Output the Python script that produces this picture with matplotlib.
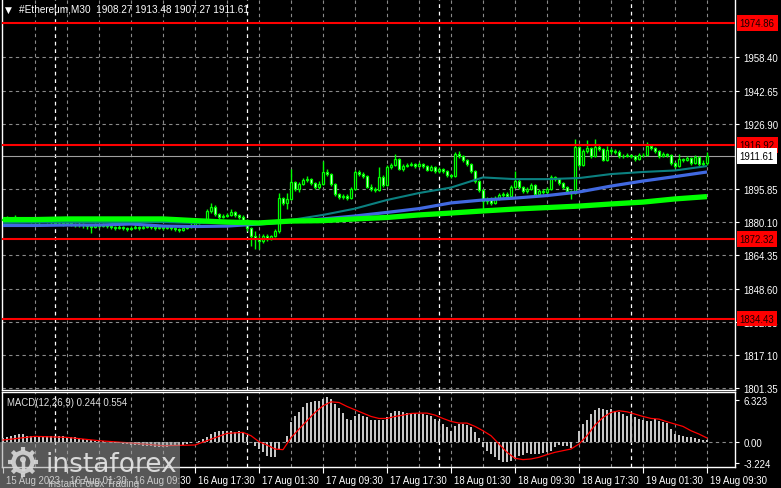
import matplotlib
matplotlib.use("Agg")
import matplotlib.pyplot as plt
import matplotlib.transforms as mtrans
from matplotlib.patches import Rectangle, Circle
import numpy as np

W, H = 781, 489

# --- price data (M30 bars, 15 Aug 17:30 .. 19 Aug 09:30) ---
first_open = 1881.2
closes = [
    1881.7, 1882.1, 1881.7, 1882.1, 1881.2, 1882.1, 1881.7, 1880.7, 1881.2, 1880.7, 1881.2, 1880.7, 1880.2,
    1879.8, 1879.8, 1879.3, 1879.8, 1879.3, 1878.8, 1879.3, 1878.8, 1878.3, 1877.9, 1878.8, 1878.3, 1878.8,
    1878.3, 1877.9, 1877.4, 1877.9, 1877.4, 1876.9, 1877.4, 1877.9, 1877.4, 1877.9, 1878.3,
    1877.9, 1877.4, 1877.9, 1877.4, 1877.9, 1877.4, 1876.9, 1876.4, 1877.4, 1877.9, 1878.8, 1879.8, 1880.2, 1880.7,
    1885.5, 1887.4, 1884.0, 1882.6, 1883.1, 1883.6, 1885.0, 1883.6, 1882.6, 1881.2, 1877.4, 1873.6, 1872.2, 1871.2,
    1873.6, 1872.2, 1873.6, 1876.0,
    1891.6, 1889.3, 1891.2, 1899.2, 1895.9, 1898.3, 1900.2, 1900.6, 1898.8, 1896.9, 1898.3, 1904.0, 1903.0, 1898.3,
    1893.5, 1892.1, 1892.6, 1891.6, 1895.9, 1904.0, 1903.0, 1902.1, 1896.9, 1895.9, 1895.4, 1901.6, 1897.8,
    1906.3, 1907.3, 1910.2, 1905.4, 1906.8, 1907.3, 1907.8, 1906.8, 1907.8, 1906.8, 1904.9, 1906.3, 1904.4, 1905.4,
    1904.4, 1902.5, 1902.1,
    1912.5, 1911.6, 1909.7, 1907.8, 1904.4, 1899.7, 1895.4, 1890.2, 1891.2, 1889.3, 1891.6, 1893.1, 1893.5, 1892.6,
    1896.9, 1899.7, 1896.9, 1894.9, 1895.9, 1897.8, 1893.5, 1894.9, 1894.5, 1895.9, 1901.6, 1900.6, 1898.8, 1896.9,
    1894.9, 1894.0,
    1915.8, 1907.3, 1913.9, 1915.4, 1911.6, 1915.8, 1914.9, 1909.7, 1914.4, 1913.9, 1913.5, 1911.6, 1911.6, 1912.0,
    1911.6, 1910.2, 1912.0, 1912.0, 1916.3, 1915.4, 1913.9, 1911.6, 1912.5, 1912.0, 1908.2, 1906.8, 1910.2, 1909.7,
    1910.6, 1908.2, 1911.1, 1907.8, 1908.27, 1911.61,
]
highs = [
    1882.6, 1883.1, 1882.6, 1883.6, 1882.6, 1882.6, 1882.6, 1882.1, 1882.1, 1881.7, 1882.1, 1881.7, 1881.2,
    1880.7, 1880.7, 1880.2, 1880.7, 1880.2, 1879.8, 1880.2, 1879.8, 1879.3, 1878.8, 1879.8, 1879.3, 1879.8,
    1879.3, 1878.8, 1878.3, 1878.8, 1878.3, 1877.9, 1878.3, 1878.8, 1878.3, 1878.8, 1879.3,
    1878.8, 1878.3, 1878.8, 1878.3, 1878.8, 1878.3, 1877.9, 1877.4, 1877.9, 1878.8, 1879.8, 1880.7, 1881.2, 1881.7,
    1886.4, 1889.3, 1888.3, 1884.5, 1884.0, 1884.5, 1886.4, 1885.5, 1884.0, 1883.6, 1881.7, 1877.9, 1876.0, 1874.0,
    1874.5, 1874.5, 1874.0, 1877.0,
    1894.0, 1892.1, 1894.0, 1905.4, 1899.7, 1899.2, 1901.1, 1902.1, 1901.1, 1899.2, 1899.7, 1909.2, 1905.4, 1903.5,
    1898.8, 1894.0, 1893.5, 1893.5, 1896.9, 1905.0, 1905.0, 1904.0, 1902.5, 1898.3, 1896.9, 1906.3, 1902.5,
    1907.3, 1908.2, 1912.5, 1910.6, 1907.8, 1908.2, 1908.7, 1908.2, 1908.7, 1908.2, 1907.3, 1907.3, 1906.8, 1906.3,
    1905.9, 1904.9, 1903.0,
    1913.5, 1913.9, 1912.0, 1910.2, 1908.2, 1904.9, 1900.2, 1895.9, 1892.1, 1892.1, 1892.6, 1894.0, 1894.5, 1894.5,
    1897.8, 1904.4, 1900.6, 1897.3, 1896.9, 1898.8, 1898.3, 1895.9, 1895.9, 1896.9, 1902.5, 1902.1, 1901.1, 1899.2,
    1897.3, 1895.4,
    1919.7, 1916.3, 1914.9, 1919.2, 1915.9, 1919.7, 1916.8, 1915.4, 1916.3, 1915.4, 1914.9, 1914.4, 1912.5, 1913.0,
    1912.5, 1912.0, 1913.0, 1913.0, 1918.2, 1917.3, 1915.9, 1914.4, 1913.5, 1913.0, 1912.5, 1908.7, 1912.5, 1910.6,
    1911.6, 1911.1, 1912.0, 1911.6, 1909.7, 1913.48,
]
lows = [
    1880.7, 1881.2, 1881.2, 1881.2, 1880.7, 1880.7, 1880.7, 1879.8, 1879.8, 1879.3, 1880.2, 1879.8, 1879.3,
    1878.8, 1878.8, 1878.3, 1878.8, 1878.3, 1877.9, 1877.9, 1877.4, 1876.9, 1875.0, 1877.4, 1877.4, 1877.9,
    1877.4, 1876.9, 1876.4, 1876.9, 1876.4, 1876.0, 1876.4, 1876.9, 1876.4, 1876.9, 1877.4,
    1876.9, 1876.4, 1876.9, 1876.4, 1876.9, 1876.4, 1876.0, 1875.5, 1876.0, 1876.9, 1877.4, 1878.3, 1879.3, 1879.8,
    1880.2, 1884.5, 1883.1, 1881.7, 1882.1, 1882.6, 1883.1, 1882.6, 1881.7, 1880.2, 1876.0, 1868.9, 1867.4, 1867.4,
    1870.2, 1871.2, 1871.7, 1873.0,
    1875.0, 1888.3, 1886.4, 1890.7, 1895.0, 1894.5, 1897.8, 1899.2, 1897.8, 1895.9, 1895.9, 1897.8, 1902.1, 1897.3,
    1892.6, 1891.2, 1891.2, 1890.7, 1891.2, 1895.4, 1902.1, 1901.1, 1896.4, 1895.0, 1894.5, 1894.9, 1896.9,
    1897.3, 1905.4, 1906.8, 1904.9, 1904.4, 1906.3, 1906.8, 1905.9, 1906.3, 1905.9, 1904.4, 1904.4, 1903.5, 1903.5,
    1903.5, 1901.6, 1901.1,
    1901.6, 1910.6, 1908.7, 1906.8, 1903.5, 1898.8, 1894.5, 1887.0, 1888.8, 1888.3, 1888.8, 1890.7, 1892.1, 1891.6,
    1892.1, 1896.4, 1895.9, 1894.0, 1894.0, 1895.4, 1892.6, 1892.6, 1893.5, 1893.5, 1895.4, 1899.7, 1897.8, 1895.9,
    1894.0, 1891.2,
    1893.5, 1906.3, 1906.8, 1913.0, 1910.6, 1911.1, 1913.9, 1909.2, 1909.2, 1912.5, 1912.5, 1910.6, 1910.6, 1911.1,
    1910.6, 1909.2, 1909.7, 1911.1, 1911.6, 1914.4, 1913.0, 1910.6, 1911.1, 1911.1, 1907.3, 1905.9, 1906.3, 1908.7,
    1909.2, 1907.3, 1907.8, 1906.8, 1906.8, 1907.27,
]

# moving averages, read every 8 bars
ma_bars = [0, 8, 16, 24, 32, 40, 48, 56, 64, 72, 80, 88, 96, 104, 112, 120, 128, 136, 144, 152, 160, 168, 176]
ma_teal = [1879.8, 1880.0, 1880.2, 1880.2, 1880.2, 1880.2, 1879.8, 1880.0, 1880.2, 1881.2, 1883.6, 1886.6,
           1890.7, 1894.0, 1896.6, 1901.4, 1900.6, 1900.6, 1901.1, 1903.0, 1904.0, 1904.7, 1906.8]
ma_blue = [1878.6, 1878.6, 1878.8, 1878.8, 1879.3, 1878.3, 1878.1, 1878.3, 1879.3, 1880.5, 1881.7, 1883.1,
           1884.8, 1886.6, 1889.3, 1890.7, 1891.6, 1892.8, 1894.5, 1897.3, 1899.7, 1901.8, 1904.0]
ma_lime = [1881.4, 1881.4, 1881.7, 1881.7, 1881.7, 1881.7, 1880.9, 1880.2, 1879.8, 1880.7, 1880.9, 1881.7,
           1882.4, 1883.6, 1884.5, 1885.5, 1886.4, 1887.1, 1887.8, 1888.8, 1889.7, 1891.2, 1892.3]

# MACD(12,26,9) histogram and signal
macd = [
    0.5, 0.75, 0.9, 1.05, 1.15, 1.1, 0.9, 0.8, 0.85, 0.9, 0.8, 0.85, 0.9, 0.85, 0.85, 0.8, 0.75, 0.75, 0.65, 0.55,
    0.4, 0.3, 0.2, 0.15, 0.1, 0.05,
    0.0, -0.05, -0.15, -0.2, -0.3, -0.35, -0.45, -0.5, -0.55, -0.6, -0.65, -0.7, -0.75, -0.75, -0.75, -0.75, -0.7,
    -0.7, -0.6, -0.5, -0.4, -0.25, -0.1,
    0.1, 0.35, 0.75, 1.15, 1.5, 1.65, 1.65, 1.65, 1.55, 1.5, 1.55, 1.4, 0.65, -0.1, -0.7, -1.1, -1.6, -2.1, -2.35,
    -2.25, -1.1, 0.0,
    0.9, 2.9, 3.8, 4.5, 5.2, 5.8, 6.0, 6.1, 6.1, 6.45, 6.7, 6.45, 5.7, 5.0, 4.3, 3.4, 3.3, 3.9, 4.2, 3.9, 3.7, 3.3,
    3.2, 3.2,
    3.3, 3.65, 4.3, 4.65, 4.55, 4.4, 4.3, 4.3, 4.3, 4.15, 4.15, 4.0, 3.8, 3.4, 3.05, 2.65, 2.15, 1.65, 2.4, 2.65,
    2.65, 2.5, 2.15, 1.5, 0.5,
    -0.85, -1.35, -1.85, -2.35, -2.75, -3.0, -3.1, -2.85, -2.6, -2.1, -1.95, -1.75, -1.85, -1.85, -1.85, -1.75, -1.6,
    -1.35, -0.85, -0.5, -0.6, -0.7, -1.0, -0.1,
    1.65, 2.65, 3.3, 4.15, 4.8, 5.0, 4.9, 4.8, 4.9, 4.65, 4.4, 4.15, 3.9, 4.15, 3.65, 3.4, 3.3, 3.15, 3.15, 3.4,
    3.15, 2.9, 2.75, 1.9, 1.15, 1.0, 0.9, 0.75, 0.65, 0.55, 0.4, 0.3, 0.244,
]
sig_bars = [0, 8, 16, 24, 32, 40, 48, 56, 60, 62, 64, 66, 68, 70, 72, 74, 76, 78, 80, 82, 84, 86, 88, 90, 92, 94,
            96, 98, 100, 102, 104, 106, 108, 110, 112, 114, 116, 118, 120, 122, 124, 126, 128, 130, 132, 134,
            136, 138, 140, 142, 144, 146, 148, 150, 152, 154, 156, 158, 160, 162, 164, 166, 168, 170, 172, 174, 176]
sig_vals = [0.25, 0.8, 0.65, 0.15, -0.2, -0.6, -0.5, 1.25, 1.4, 0.9, 0.0, -0.5, -1.1, -1.2, 0.6, 1.9, 3.15, 4.4,
            5.4, 6.0, 5.9, 5.3, 4.8, 4.3, 3.8, 3.5,
            3.5, 3.8, 4.0, 4.25, 4.3, 4.3, 4.0, 3.5, 3.05, 2.8, 2.8, 2.3, 1.65, 0.9, -0.35, -1.6, -2.5, -2.7,
            -2.6, -2.35, -1.95, -1.6, -1.35, -1.1, -0.35, 0.9, 2.5, 3.65, 4.4, 4.65, 4.5, 4.15, 3.8, 3.5, 3.4,
            3.0, 2.65, 2.3, 1.65, 1.15, 0.554]

red_levels = [1974.86, 1916.92, 1872.32, 1834.43]
last_price = 1911.61
price_ticks = [1958.40, 1942.65, 1926.90, 1895.85, 1880.10, 1864.35, 1848.60, 1832.85, 1817.10, 1801.35]
macd_ticks = [6.323, 0.0, -3.224]
macd_tick_labels = ["6.323", "0.00", "-3.224"]
time_bars = [0, 16, 32, 48, 64, 80, 96, 112, 128, 144, 160, 176]
time_labels = ["15 Aug 2023", "16 Aug 01:30", "16 Aug 09:30", "16 Aug 17:30", "17 Aug 01:30", "17 Aug 09:30",
               "17 Aug 17:30", "18 Aug 01:30", "18 Aug 09:30", "18 Aug 17:30", "19 Aug 01:30", "19 Aug 09:30"]
day_starts = [13, 61, 109, 157]

GRID = "#8a8a8a"
LIME = "#00ff00"
FS = 6.9
plt.rcParams["font.family"] = ["Liberation Sans", "DejaVu Sans"]

fig = plt.figure(figsize=(W / 100, H / 100), dpi=100, facecolor="black")


def box(l, t, r, b):
    return [l / W, 1 - b / H, (r - l) / W, (b - t) / H]


ax = fig.add_axes(box(2, 0, 735, 391))
mx = fig.add_axes(box(2, 393, 735, 468), sharex=ax)

for a in (ax, mx):
    a.set_facecolor("black")
    for s in a.spines.values():
        s.set_color("white")
        s.set_linewidth(1)
    a.yaxis.tick_right()
    a.tick_params(axis="y", colors="white", length=3, width=0.8, labelsize=FS, pad=3)
    for b in range(8, 184, 8):
        a.axvline(b, color=GRID, lw=0.8, ls=(0, (3, 3)), zorder=1)
    for b in day_starts:
        a.axvline(b, color="white", lw=0.9, ls=(0, (3, 3)), zorder=1)
ax.spines["top"].set_visible(False)

bars = np.arange(len(closes))
opens = np.array([first_open] + closes[:-1])
closes_a = np.array(closes)

# --- main price panel ---
ax.set_xlim(-0.25, 183)
ax.set_ylim(1800.5, 1986.1)
ax.set_yticks(price_ticks)
ax.set_yticklabels([f"{v:.2f}" for v in price_ticks])
ax.tick_params(axis="x", length=0, labelbottom=False)
for v in price_ticks:
    ax.axhline(v, color=GRID, lw=0.8, ls=(0, (3, 3)), zorder=1)

ax.vlines(bars, lows, highs, color=LIME, lw=1.0, zorder=3)
faces = np.where(closes_a >= opens, "black", "white")
ax.bar(bars, np.abs(closes_a - opens), bottom=np.minimum(closes_a, opens), width=0.72,
       color=faces, edgecolor=LIME, linewidth=0.9, zorder=4)

ax.plot(ma_bars, ma_blue, color="#4169e1", lw=2.3, zorder=5, solid_capstyle="butt")
ax.plot(ma_bars, ma_teal, color="#0b8080", lw=1.5, zorder=5, solid_capstyle="butt")
ax.plot(ma_bars, ma_lime, color=LIME, lw=3.8, zorder=6, solid_capstyle="butt")

ytr = ax.get_yaxis_transform()
for lvl in red_levels:
    ax.axhline(lvl, color="#ff0000", lw=1.5, zorder=7)
    ax.text(1.0065, lvl, f"{lvl:.2f}", transform=ytr, ha="left", va="center", fontsize=FS, color="#1a0000",
            bbox=dict(boxstyle="square,pad=0.3", fc="#ff0000", ec="none"), clip_on=False, zorder=10)
ax.axhline(last_price, color="#a0a0a0", lw=0.8, zorder=2)
ax.text(1.0065, last_price, f"{last_price:.2f}", transform=ytr, ha="left", va="center", fontsize=FS,
        color="black", bbox=dict(boxstyle="square,pad=0.3", fc="white", ec="none"), clip_on=False, zorder=10)

# --- MACD panel ---
mx.set_ylim(-3.81, 7.48)
mx.axhline(0, color=GRID, lw=0.8, ls=(0, (3, 3)), zorder=1)
mx.bar(bars, macd, width=0.74, color="#c6c6c6", zorder=3)
mx.plot(sig_bars, sig_vals, color="#ff0000", lw=0.9, zorder=4)
mx.set_yticks(macd_ticks)
mx.set_yticklabels(macd_tick_labels)
mx.set_xticks(time_bars)
mx.set_xticklabels(time_labels)
mx.tick_params(axis="x", colors="white", length=4, width=0.8, labelsize=FS, pad=2)
shift = mtrans.ScaledTranslation(2 / 72, 0, fig.dpi_scale_trans)
for lab in mx.get_xticklabels():
    lab.set_horizontalalignment("left")
    lab.set_transform(lab.get_transform() + shift)
mx.text(0.007, 0.86, "MACD(12,26,9) 0.244 0.554", transform=mx.transAxes, color="#e0e0e0",
        fontsize=FS, va="center")

# --- overlay: title and watermark, in pixel units ---
ov = fig.add_axes([0, 0, 1, 1])
ov.set_xlim(0, W)
ov.set_ylim(H, 0)
ov.axis("off")
ov.patch.set_alpha(0)
ov.text(5, 10, "\u25bc", color="white", fontsize=6.5, va="center", family="DejaVu Sans")
ov.text(19, 10, "#Ethereum,M30  1908.27 1913.48 1907.27 1911.61", color="white", fontsize=FS + 0.3,
        va="center")

ov.add_patch(Rectangle((0, 443), 180, 46, fc="#a0a0a0", ec="none", alpha=0.55, zorder=5))
gx, gy = 23, 463
ov.add_patch(Circle((gx, gy), 9.5, fc="none", ec="#d8d8d8", lw=3.2, alpha=0.9, zorder=6))
for ang in np.linspace(0, 2 * np.pi, 9)[:-1]:
    ov.plot([gx + 11 * np.cos(ang), gx + 15 * np.cos(ang)], [gy + 11 * np.sin(ang), gy + 15 * np.sin(ang)],
            color="#d8d8d8", lw=3, alpha=0.9, zorder=6, solid_capstyle="butt")
ov.add_patch(Circle((gx, gy - 2.5), 3, fc="#d8d8d8", ec="none", alpha=0.9, zorder=6))
ov.plot([gx, gx], [gy, gy + 7], color="#d8d8d8", lw=2.5, alpha=0.9, zorder=6)
ov.text(45, 465, "instaforex", color="#e8e8e8", fontsize=19, va="center", ha="left", alpha=0.9, zorder=7,
        family="DejaVu Sans")
ov.text(48, 484, "Instant Forex Trading", color="#d8d8d8", fontsize=FS, va="center", ha="left", alpha=0.9,
        zorder=7)

fig.savefig("out.png", dpi=100, facecolor="black")
